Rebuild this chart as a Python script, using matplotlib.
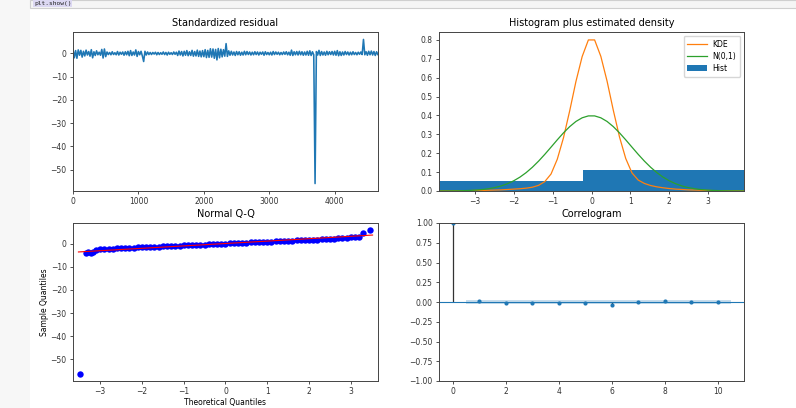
import numpy as np
import matplotlib
matplotlib.use('Agg')
from matplotlib import pyplot as plt
from matplotlib.patches import Rectangle

# standardized residuals, read every 20th observation (spikes kept)
resid_step = 20
resid = [
    1.8, -1.9, 1.2, -2.1, 1.5, -0.8, 1.3, -1.6, 0.9, -1.1, 1.4, -0.7, 0.8, -1.2, 1.6, -1.9, 0.7, -0.9, 1.1, -0.6,
    0.5, -0.8, 1.7, -2.0, 1.9, -1.4, 0.6, -0.5, 0.4, -0.6, 0.7, -0.5, 0.3, -0.6, 0.8, -0.7, 0.5, -0.4, 0.6, -0.8,
    0.7, -0.6, 0.9, -1.0, 1.2, -0.9, 0.6, -0.7, 1.5, -1.3, 0.8, -0.6, 0.9, -1.1, -3.5, 0.9, -0.7, 0.6, -0.5, 0.4,
    -0.5, 0.4, -0.3, 0.5, -0.6, 0.4, -0.5, 0.3, -0.4, 0.6, -0.5, 0.4, -0.7, 0.5, -0.4, 0.3, -0.5, 0.6, -0.4, 0.5,
    -0.9, 1.0, -0.7, 0.8, -1.1, 0.9, -0.8, 1.2, -1.0, 0.7, -0.9, 1.3, -1.2, 0.8, -1.1, 1.4, -1.3, 1.0, -1.5, 1.2,
    -1.4, 1.6, -1.8, 1.3, -1.7, 2.0, -1.6, 1.9, -2.1, 1.7, -2.8, 2.1, -1.9, 1.8, -1.5, 1.6, -1.2, 4.2, -1.3, 1.1,
    -0.8, 0.9, -0.7, 0.6, -0.9, 0.8, -0.6, 0.7, -0.8, 0.5, -0.7, 0.9, -0.6, 0.8, -0.5, 0.6, -0.7, 0.5, -0.6, 0.7,
    -0.5, 0.6, -0.7, 0.5, -0.4, 0.6, -0.8, 0.7, -0.5, 0.4, -0.6, 0.5, -0.7, 0.8, -0.5, 0.6, -0.4, 0.5, -0.6, 0.4,
    -0.5, 0.6, -0.4, 0.7, -0.6, 0.5, -0.8, 1.4, -0.9, 0.7, -0.6, 0.8, -0.7, 0.9, -0.6, 0.7, -0.8, 0.6, -0.7, 0.9,
    -0.8, 1.1, -0.9, 0.7, -0.6, -56.0, 0.8, -0.7, 1.3, -0.9, 0.8, -0.7, 0.6, -0.8, 0.9, -0.6, 0.7, -0.5, 0.8, -0.7,
    0.9, -0.8, 1.2, -1.0, 0.7, -0.9, 0.6, -0.7, 0.8, -0.5, 0.6, -0.7, 0.5, -0.6, 0.7, -0.5, 0.4, -0.6, 0.5, -0.4,
    0.6, -0.5, 6.0, -0.6, 0.7, -0.8, 0.9, -0.6, 1.0, -0.7, 0.8, -0.9, 0.7, -0.6, 0.9,
]

# histogram + densities
hist_edges = [-6.4, -0.22, 6.0]
hist_heights = [0.052, 0.110]
dens_x = [-3.92, -3.76, -3.60, -3.44, -3.28, -3.12, -2.96, -2.80, -2.64, -2.48,
          -2.32, -2.16, -2.00, -1.84, -1.68, -1.52, -1.36, -1.20, -1.04, -0.88,
          -0.72, -0.56, -0.40, -0.24, -0.08, 0.08, 0.24, 0.40, 0.56, 0.72,
          0.88, 1.04, 1.20, 1.36, 1.52, 1.68, 1.84, 2.00, 2.16, 2.32,
          2.48, 2.64, 2.80, 2.96, 3.12, 3.28, 3.44, 3.60, 3.76, 3.92]
kde_y = [0.001, 0.001, 0.001, 0.002, 0.002, 0.002, 0.003, 0.003, 0.004, 0.005,
         0.006, 0.008, 0.010, 0.012, 0.015, 0.020, 0.030, 0.050, 0.090, 0.168,
         0.282, 0.425, 0.580, 0.712, 0.800, 0.800, 0.713, 0.582, 0.428, 0.286,
         0.172, 0.096, 0.058, 0.040, 0.029, 0.022, 0.017, 0.013, 0.010, 0.008,
         0.006, 0.005, 0.004, 0.003, 0.002, 0.002, 0.001, 0.001, 0.001, 0.001]
norm_y = [0.0002, 0.0003, 0.0006, 0.0011, 0.0018, 0.0031, 0.0050, 0.0079, 0.0122, 0.0184,
          0.0270, 0.0387, 0.0540, 0.0734, 0.0973, 0.1257, 0.1582, 0.1942, 0.2323, 0.2709,
          0.3079, 0.3410, 0.3683, 0.3876, 0.3977, 0.3977, 0.3876, 0.3683, 0.3410, 0.3079,
          0.2709, 0.2323, 0.1942, 0.1582, 0.1257, 0.0973, 0.0734, 0.0540, 0.0387, 0.0270,
          0.0184, 0.0122, 0.0079, 0.0050, 0.0031, 0.0018, 0.0011, 0.0006, 0.0003, 0.0002]

# normal Q-Q points
qq_theo = [-3.49, -3.35, -3.28, -3.22, -3.17,
           -3.1, -3.0, -2.9, -2.8, -2.7, -2.6, -2.5, -2.4, -2.3, -2.2, -2.1, -2.0,
           -1.9, -1.8, -1.7, -1.6, -1.5, -1.4, -1.3, -1.2, -1.1, -1.0,
           -0.9, -0.8, -0.7, -0.6, -0.5, -0.4, -0.3, -0.2, -0.1, 0.0,
           0.1, 0.2, 0.3, 0.4, 0.5, 0.6, 0.7, 0.8, 0.9, 1.0,
           1.1, 1.2, 1.3, 1.4, 1.5, 1.6, 1.7, 1.8, 1.9, 2.0,
           2.1, 2.2, 2.3, 2.4, 2.5, 2.6, 2.7, 2.8, 2.9, 3.0,
           3.1, 3.2, 3.29, 3.46]
qq_sample = [-56.2, -3.9, -3.8, -4.0, -3.7,
             -2.6, -2.45, -2.33, -2.22, -2.12, -2.03, -1.95, -1.87, -1.79, -1.71, -1.63, -1.55,
             -1.48, -1.40, -1.32, -1.25, -1.17, -1.10, -1.02, -0.94, -0.87, -0.79,
             -0.71, -0.63, -0.55, -0.47, -0.39, -0.31, -0.23, -0.15, -0.07, 0.01,
             0.09, 0.17, 0.25, 0.33, 0.41, 0.49, 0.57, 0.65, 0.73, 0.81,
             0.89, 0.97, 1.05, 1.13, 1.21, 1.29, 1.37, 1.45, 1.53, 1.61,
             1.69, 1.77, 1.86, 1.95, 2.04, 2.14, 2.25, 2.37, 2.50, 2.65,
             2.82, 3.05, 4.4, 6.0]
qq_line_x = [-3.52, 3.52]
qq_line_y = [-3.6, 3.7]

# correlogram
lags = [0, 1, 2, 3, 4, 5, 6, 7, 8, 9, 10]
acf = [1.0, 0.017, -0.013, -0.012, -0.013, -0.012, -0.034, 0.004, 0.017, 0.004, -0.004]
conf_x = [0.5, 1, 2, 3, 4, 5, 6, 7, 8, 9, 10.5]
conf_half = [0.029, 0.029, 0.029, 0.029, 0.029, 0.029, 0.029, 0.029, 0.029, 0.029, 0.029]

W, H = 796, 408
fig = plt.figure(figsize=(W / 100, H / 100), dpi=100)

# notebook frame around the output
fig.patches.append(Rectangle((0, 0), 30 / W, 1, transform=fig.transFigure,
                             facecolor='#f7f7f7', edgecolor='none', zorder=-5))
fig.patches.append(Rectangle((30 / W, 1 - 8 / H), 1, 8 / H, transform=fig.transFigure,
                             facecolor='#f5f5f5', edgecolor='#cfcfcf', lw=0.8, zorder=-5))
fig.text(34 / W, 1 - 3.8 / H, 'plt.show()', family='DejaVu Sans Mono', fontsize=4.5,
         color='#222222', va='center', ha='left',
         bbox=dict(facecolor='#dcd8f2', edgecolor='none', pad=0.6))


def px(l, t, r, b):
    return [l / W, 1 - b / H, (r - l) / W, (b - t) / H]


ax1 = fig.add_axes(px(73, 32, 378, 191))
ax2 = fig.add_axes(px(439, 32, 744, 191))
ax3 = fig.add_axes(px(73, 223, 378, 381))
ax4 = fig.add_axes(px(439, 223, 744, 381))

title_fs = 7
tick_fs = 5.5

# standardized residual
ax1.plot(np.arange(len(resid)) * resid_step, resid, color='C0', lw=1.15)
ax1.set_xlim(0, 4662)
ax1.set_ylim(-59.2, 9.2)
ax1.set_yticks([0, -10, -20, -30, -40, -50])
ax1.set_title('Standardized residual', fontsize=title_fs, pad=4)

# histogram plus estimated density
ax2.plot(dens_x, kde_y, color='C1', lw=0.9, label='KDE')
ax2.plot(dens_x, norm_y, color='C2', lw=0.9, label='N(0,1)')
ax2.stairs(hist_heights, hist_edges, fill=True, color='C0', label='Hist')
ax2.set_xlim(-3.92, 3.92)
ax2.set_ylim(0, 0.842)
ax2.set_yticks([0.0, 0.1, 0.2, 0.3, 0.4, 0.5, 0.6, 0.7, 0.8])
ax2.set_title('Histogram plus estimated density', fontsize=title_fs, pad=4)
ax2.legend(loc='upper right', fontsize=tick_fs, handlelength=2.5, borderpad=0.5,
           labelspacing=0.4, framealpha=0.8, edgecolor='#cccccc')

# normal Q-Q
ax3.plot(qq_theo, qq_sample, 'o', color='b', markersize=4.6, markeredgewidth=0)
ax3.plot(qq_line_x, qq_line_y, color='r', lw=0.8)
ax3.set_xlim(-3.65, 3.65)
ax3.set_ylim(-59.3, 8.9)
ax3.set_yticks([0, -10, -20, -30, -40, -50])
ax3.set_title('Normal Q-Q', fontsize=title_fs, pad=4)
ax3.set_xlabel('Theoretical Quantiles', fontsize=tick_fs, labelpad=1)
ax3.set_ylabel('Sample Quantiles', fontsize=tick_fs, labelpad=1)

# correlogram
ax4.vlines(lags, 0, acf, color='#333333', lw=0.9)
ax4.axhline(0, color='C0', lw=0.8)
ax4.plot(lags, acf, 'o', color='C0', markersize=3, markeredgewidth=0)
ax4.fill_between(conf_x, [-c for c in conf_half], conf_half, color='C0', alpha=0.25,
                 linewidth=0)
ax4.set_xlim(-0.52, 11.0)
ax4.set_ylim(-1, 1)
ax4.set_yticks([1.0, 0.75, 0.5, 0.25, 0.0, -0.25, -0.5, -0.75, -1.0])
ax4.set_yticklabels(['1.00', '0.75', '0.50', '0.25', '0.00', '\u22120.25',
                     '\u22120.50', '\u22120.75', '\u22121.00'])
ax4.set_xticks([0, 2, 4, 6, 8, 10])
ax4.set_title('Correlogram', fontsize=title_fs, pad=4)

for ax in (ax1, ax2, ax3, ax4):
    ax.tick_params(labelsize=tick_fs, length=2.5, width=0.6, pad=2, colors='#333333')
    for s in ax.spines.values():
        s.set_linewidth(0.7)
        s.set_color('#444444')

fig.savefig('out.png', dpi=100)
